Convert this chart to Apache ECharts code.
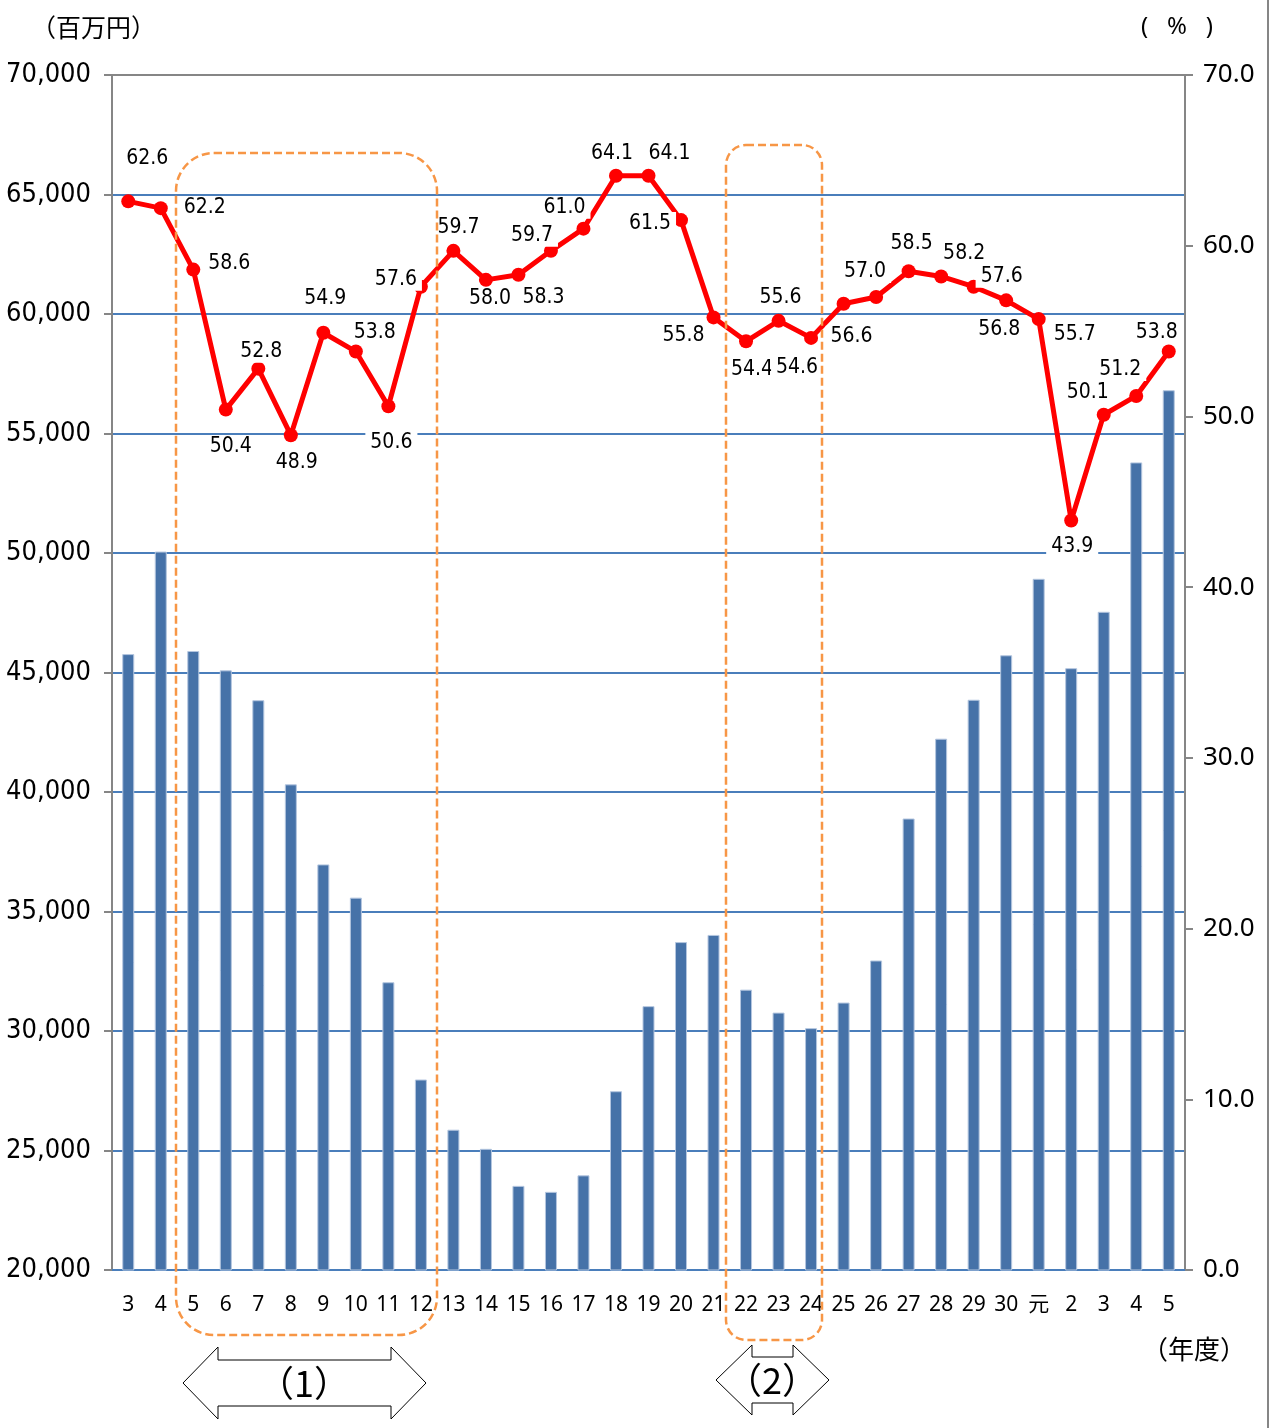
<!DOCTYPE html>
<html>
<head>
<meta charset="utf-8">
<title>chart</title>
<script src="https://cdn.jsdelivr.net/npm/echarts@6/dist/echarts.min.js"></script>
<style>
  html, body { margin: 0; padding: 0; background: #fff; }
  #main { width: 1271px; height: 1428px; }
</style>
</head>
<body>
<div id="main"></div>
<script>
// 年度 (平成3 ～ 令和5)
const years = ["3", "4", "5", "6", "7", "8", "9", "10", "11", "12", "13", "14", "15", "16", "17", "18", "19", "20", "21", "22", "23", "24", "25", "26", "27", "28", "29", "30", "元", "2", "3", "4", "5"];
// 百万円 (棒)
const amount = [45770, 50060, 45900, 45090, 43840, 40320, 36970, 35580, 32040, 27970, 25870, 25070, 23520, 23270, 23960, 27480, 31040, 33720, 34020, 31730, 30770, 30120, 31190, 32950, 38890, 42230, 43860, 45720, 48920, 45180, 47540, 53790, 56810];
// % (折れ線)
const ratio = [62.6, 62.2, 58.6, 50.4, 52.8, 48.9, 54.9, 53.8, 50.6, 57.6, 59.7, 58.0, 58.3, 59.7, 61.0, 64.1, 64.1, 61.5, 55.8, 54.4, 55.6, 54.6, 56.6, 57.0, 58.5, 58.2, 57.6, 56.8, 55.7, 43.9, 50.1, 51.2, 53.8];
const leftTicks = [20000, 70000, 5000];
const rightTicks = [0, 70, 10];

// where each data label sits relative to its point
const labelOffsets = [[19, -43], [44, -1], [36, -6], [5, 37], [3, -17], [6, 27], [2, -34], [19, -19], [3, 36], [-25, -7],
  [5, -23], [4, 19], [25, 23], [-19, -15], [-19, -21], [-4, -22], [21, -22], [-31, 3], [-30, 18], [6, 28],
  [2, -23], [-14, 30], [8, 33], [-11, -25], [3, -28], [23, -23], [28, -10], [-7, 29], [36, 15], [1, 26],
  [-16, -22], [-16, -26], [-12, -19]];

const gridBlue = "#4a7ebb";
const axisGray = "#868686";
const orange = "#f79646";
const narrow = '"DejaVu Sans Condensed", sans-serif';
const sans = '"Noto Sans", "Noto Sans CJK JP", sans-serif';
const cjk = '"Noto Sans CJK JP", sans-serif';

let chart = echarts.init(document.getElementById("main"));

let splitColors = [];
for (let v = leftTicks[0]; v <= leftTicks[1]; v += leftTicks[2]) {
  splitColors.push(v === leftTicks[1] ? axisGray : gridBlue);
}

function arrow(x1, x2, y, headW, headH, shaftH) {
  return [
    [x1, y], [x1 + headW, y - headH], [x1 + headW, y - shaftH],
    [x2 - headW, y - shaftH], [x2 - headW, y - headH], [x2, y],
    [x2 - headW, y + headH], [x2 - headW, y + shaftH],
    [x1 + headW, y + shaftH], [x1 + headW, y + headH]
  ];
}

let option = {
  animation: false,
  backgroundColor: "#fff",
  grid: { left: 112, right: 86, top: 75, bottom: 158, outerBoundsMode: "none" },
  xAxis: {
    type: "category",
    data: years,
    boundaryGap: true,
    axisLine: { lineStyle: { color: gridBlue, width: 2 } },
    axisTick: { show: false },
    axisLabel: { interval: 0, margin: 25, color: "#000", fontSize: 21, fontFamily: sans }
  },
  yAxis: [
    {
      type: "value",
      position: "left",
      min: leftTicks[0],
      max: leftTicks[1],
      interval: leftTicks[2],
      axisLine: { show: true, lineStyle: { color: axisGray, width: 2 } },
      axisTick: { show: true, length: 8, lineStyle: { color: axisGray, width: 2 } },
      axisLabel: {
        margin: 21,
        color: "#000",
        fontSize: 27,
        fontFamily: narrow,
        formatter: v => v.toLocaleString("en-US")
      },
      splitLine: { show: true, lineStyle: { color: splitColors, width: 2 } }
    },
    {
      type: "value",
      position: "right",
      min: rightTicks[0],
      max: rightTicks[1],
      interval: rightTicks[2],
      axisLine: { show: true, lineStyle: { color: axisGray, width: 2 } },
      axisTick: { show: true, length: 8, lineStyle: { color: axisGray, width: 2 } },
      axisLabel: {
        margin: 18,
        color: "#000",
        fontSize: 26,
        fontFamily: sans,
        formatter: v => v.toFixed(1)
      },
      splitLine: { show: false }
    }
  ],
  series: [
    {
      name: "百万円",
      type: "bar",
      yAxisIndex: 0,
      barWidth: 12,
      data: amount,
      itemStyle: { color: "#4672a8", borderColor: "#b4c6df", borderWidth: 1 },
      z: 2
    },
    {
      name: "%",
      type: "line",
      yAxisIndex: 1,
      data: ratio.map((v, i) => ({ value: v, label: { offset: labelOffsets[i] } })),
      symbol: "circle",
      symbolSize: 14,
      lineStyle: { color: "#ff0000", width: 5 },
      itemStyle: { color: "#ff0000" },
      label: {
        show: true,
        position: "inside",
        formatter: p => p.value.toFixed(1),
        color: "#000",
        fontSize: 21,
        lineHeight: 20,
        fontFamily: narrow,
        backgroundColor: "#fff",
        padding: [2, 5, 0, 5]
      },
      z: 3
    }
  ],
  graphic: [
    { type: "text", x: 31, y: 27, style: { text: "（百万円）", font: "25px " + cjk, fill: "#000", verticalAlign: "middle" } },
    { type: "text", x: 1177, y: 27, style: { text: "(   %   )", font: "24px " + sans, fill: "#000", align: "center", verticalAlign: "middle" } },
    { type: "text", x: 1194, y: 1349, style: { text: "（年度）", font: "26px " + cjk, fill: "#000", align: "center", verticalAlign: "middle" } },
    { type: "line", shape: { x1: 1268, y1: 0, x2: 1268, y2: 1428 }, style: { stroke: axisGray, lineWidth: 2 } },
    {
      type: "rect", z: 10,
      shape: { x: 176, y: 153, width: 261, height: 1182, r: 38 },
      style: { fill: null, stroke: orange, lineWidth: 2.5, lineDash: [8, 4] }
    },
    {
      type: "rect", z: 10,
      shape: { x: 726, y: 145, width: 96, height: 1195, r: 20 },
      style: { fill: null, stroke: orange, lineWidth: 2.5, lineDash: [8, 4] }
    },
    {
      type: "polygon", z: 10,
      shape: { points: arrow(183, 426, 1383, 35, 36, 23) },
      style: { fill: "#fff", stroke: "#000", lineWidth: 1 }
    },
    {
      type: "text", z: 11, x: 304, y: 1383,
      style: { text: "（1）", font: "36px " + cjk, fill: "#000", align: "center", verticalAlign: "middle" }
    },
    {
      type: "polygon", z: 10,
      shape: { points: arrow(716, 829, 1380, 36, 35, 23) },
      style: { fill: "#fff", stroke: "#000", lineWidth: 1 }
    },
    {
      type: "text", z: 11, x: 772, y: 1380,
      style: { text: "（2）", font: "36px " + cjk, fill: "#000", align: "center", verticalAlign: "middle" }
    }
  ]
};

chart.setOption(option);
</script>
</body>
</html>
